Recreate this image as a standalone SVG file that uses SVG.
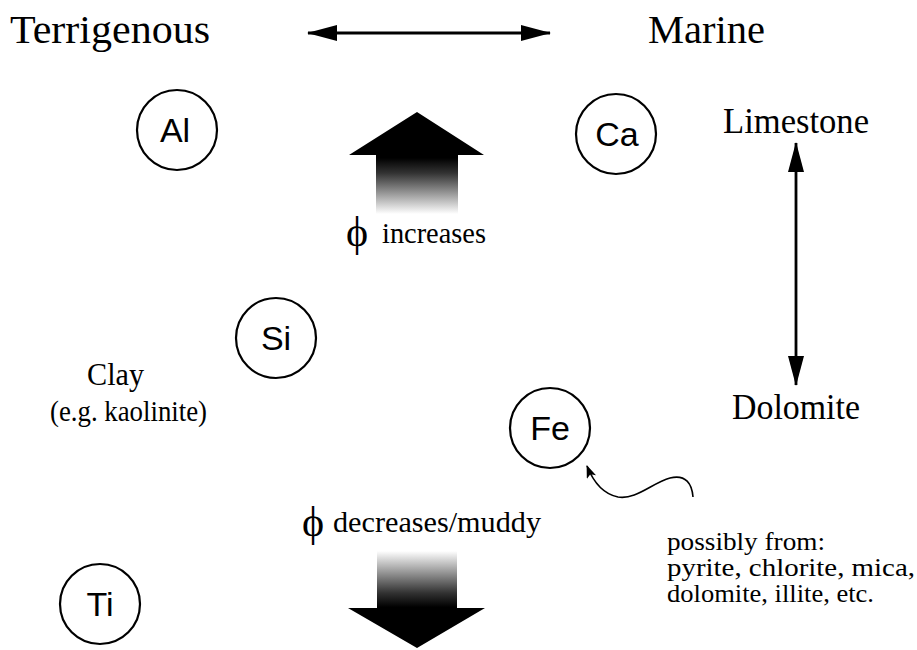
<svg xmlns="http://www.w3.org/2000/svg" width="917" height="650" viewBox="0 0 917 650">
  <style>
    .serif { font-family: "Liberation Serif", "Times New Roman", serif; fill: #000; }
    .el { font-family: "Liberation Sans", Arial, sans-serif; font-size: 34px; fill: #000; text-anchor: middle; }
    .ring { fill: #fff; stroke: #000; stroke-width: 2.2; }
    .conn { fill: none; stroke: #000; stroke-width: 2.8; }
  </style>
  <defs>
    <marker id="ah" viewBox="0 0 30 16" refX="29" refY="8" markerWidth="30" markerHeight="16" markerUnits="userSpaceOnUse" orient="auto-start-reverse">
      <path d="M0,0 L30,8 L0,16 Z" fill="#000"/>
    </marker>
    <marker id="ahs" viewBox="0 0 13 10" refX="12" refY="5" markerWidth="13" markerHeight="10" markerUnits="userSpaceOnUse" orient="auto">
      <path d="M0,0 L13,5 L0,10 L3,5 Z" fill="#000"/>
    </marker>
    <linearGradient id="gUp" gradientUnits="userSpaceOnUse" x1="0" y1="112" x2="0" y2="214">
      <stop offset="0" stop-color="#000"/>
      <stop offset="0.45" stop-color="#000"/>
      <stop offset="0.6" stop-color="#333"/>
      <stop offset="1" stop-color="#fff"/>
    </linearGradient>
    <linearGradient id="gDown" gradientUnits="userSpaceOnUse" x1="0" y1="648" x2="0" y2="551">
      <stop offset="0" stop-color="#000"/>
      <stop offset="0.42" stop-color="#000"/>
      <stop offset="0.57" stop-color="#333"/>
      <stop offset="1" stop-color="#fff"/>
    </linearGradient>
  </defs>

  <rect width="917" height="650" fill="#fff"/>

  <!-- header labels -->
  <g id="terrigenous"><text class="serif" x="10" y="43" font-size="40" textLength="200" lengthAdjust="spacingAndGlyphs">Terrigenous</text></g>
  <g id="marine"><text class="serif" x="648" y="43" font-size="40" textLength="117" lengthAdjust="spacingAndGlyphs">Marine</text></g>

  <!-- element nodes -->
  <g id="node-al"><circle class="ring" cx="177" cy="130" r="40"/><text class="el" x="175" y="142">Al</text></g>
  <g id="node-ca"><circle class="ring" cx="616" cy="134" r="40"/><text class="el" x="617" y="146">Ca</text></g>
  <g id="node-si"><circle class="ring" cx="276" cy="338" r="40"/><text class="el" x="276" y="350">Si</text></g>
  <g id="node-fe"><circle class="ring" cx="550" cy="428" r="40"/><text class="el" x="550" y="440">Fe</text></g>
  <g id="node-ti"><circle class="ring" cx="100" cy="604" r="40"/><text class="el" x="100" y="616">Ti</text></g>

  <!-- side labels -->
  <g id="limestone"><text class="serif" x="723" y="133" font-size="35" textLength="146" lengthAdjust="spacingAndGlyphs">Limestone</text></g>
  <g id="dolomite"><text class="serif" x="732" y="419" font-size="35" textLength="128" lengthAdjust="spacingAndGlyphs">Dolomite</text></g>
  <g id="clay">
    <text class="serif" x="87" y="385" font-size="31" textLength="57" lengthAdjust="spacingAndGlyphs">Clay</text>
    <text class="serif" x="50" y="421" font-size="30" textLength="157" lengthAdjust="spacingAndGlyphs">(e.g. kaolinite)</text>
  </g>
  <g id="fe-source">
    <text class="serif" x="667" y="550" font-size="25" textLength="158" lengthAdjust="spacingAndGlyphs">possibly from:</text>
    <text class="serif" x="667" y="576" font-size="25" textLength="248" lengthAdjust="spacingAndGlyphs">pyrite, chlorite, mica,</text>
    <text class="serif" x="667" y="602" font-size="25" textLength="207" lengthAdjust="spacingAndGlyphs">dolomite, illite, etc.</text>
  </g>

  <!-- porosity arrows -->
  <g id="phi-up">
    <path d="M417,112 L484,155 L458,155 L458,214 L376,214 L376,155 L349,155 Z" fill="url(#gUp)"/>
    <text class="serif" x="346" y="246" font-size="42">ϕ</text>
    <text class="serif" x="382" y="243" font-size="29" textLength="104" lengthAdjust="spacingAndGlyphs">increases</text>
  </g>
  <g id="phi-down">
    <path d="M377,551 L457,551 L457,608 L485,608 L417,648 L348,608 L377,608 Z" fill="url(#gDown)"/>
    <text class="serif" x="302" y="536" font-size="42">ϕ</text>
    <text class="serif" x="333" y="532" font-size="29" textLength="208" lengthAdjust="spacingAndGlyphs">decreases/muddy</text>
  </g>

  <!-- connectors -->
  <g id="connectors">
    <line class="conn" x1="308" y1="33" x2="550" y2="33" marker-start="url(#ah)" marker-end="url(#ah)"/>
    <line class="conn" x1="796" y1="143" x2="796" y2="385" marker-start="url(#ah)" marker-end="url(#ah)"/>
    <path d="M693,497 C692,484 686,474 670,478 C652,483 636,500 618,497 C603,494 593,481 587,466" fill="none" stroke="#000" stroke-width="1.6" marker-end="url(#ahs)"/>
  </g>
</svg>
